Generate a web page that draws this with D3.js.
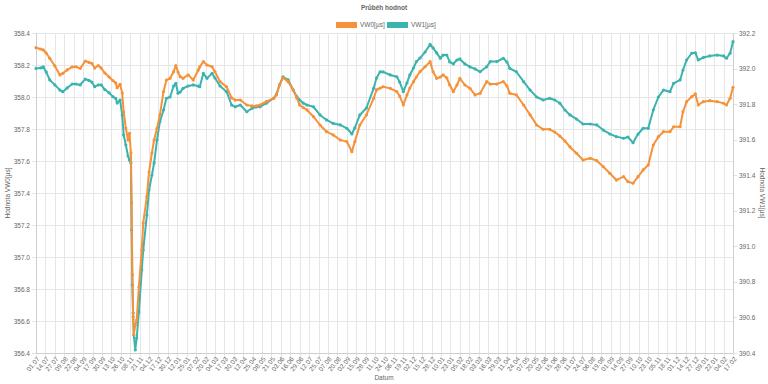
<!DOCTYPE html>
<html><head><meta charset="utf-8">
<script src="https://cdn.jsdelivr.net/npm/d3@7"></script>
<style>
html,body{margin:0;padding:0;background:#fff;}
svg text{font-family:"Liberation Sans",Arial,Helvetica,sans-serif;fill:#666;}
</style></head><body>
<svg id="c" width="768" height="384"></svg>
<script>
// day offsets from 01.07 (first day)
const days = [0,6,10,14,19,26,33,37,43,50,55,61,68,73,77,81,86,90,95,101,106,110,112,116,119,121,124,127,129,131,132,133,134,135,137,139,142,146,148,153,156,160,163,167,171,176,180,185,190,193,196,199,203,210,217,224,226,231,236,243,247,254,263,270,275,282,291,298,304,309,318,328,332,336,341,348,355,360,364,369,374,383,392,401,410,420,429,436,440,447,456,466,470,475,479,489,498,502,507,512,516,521,525,530,537,544,548,553,558,562,567,571,576,581,585,592,599,606,613,622,627,636,645,650,654,663,673,682,691,700,709,716,723,730,737,746,755,765,774,783,792,801,811,817,824,831,838,845,852,859,866,875,880,889,893,898,905,910,914,921,930,940,949,953,958,962];
const vw0 = [358.308,358.300,358.294,358.275,358.242,358.194,358.138,358.148,358.169,358.188,358.189,358.179,358.225,358.216,358.211,358.181,358.196,358.181,358.150,358.125,358.103,358.088,358.058,358.079,358.025,357.906,357.806,357.731,357.773,357.650,357.338,356.888,356.627,356.513,356.575,356.606,356.814,357.044,357.213,357.377,357.531,357.650,357.731,357.804,357.888,358.033,358.106,358.117,358.158,358.196,358.156,358.127,358.117,358.138,358.106,358.169,358.188,358.221,358.200,358.189,358.158,358.096,358.064,357.994,357.981,357.981,357.950,357.944,357.944,357.950,357.971,357.992,358.013,358.075,358.121,358.096,358.044,357.994,357.950,357.934,357.919,357.877,357.825,357.783,357.763,357.731,357.721,357.658,357.721,357.825,357.888,357.992,358.044,358.056,358.064,358.054,358.033,358.006,357.950,358.013,358.056,358.096,358.125,358.158,358.189,358.221,358.158,358.117,358.125,358.138,358.119,358.075,358.033,358.075,358.117,358.075,358.054,358.013,358.023,358.096,358.081,358.081,358.096,358.069,358.023,358.013,357.950,357.888,357.825,357.798,357.798,357.781,357.756,357.725,357.688,357.648,357.606,357.617,357.602,357.564,357.523,357.481,357.502,357.471,357.461,357.502,357.544,357.575,357.700,357.752,357.783,357.783,357.814,357.814,357.908,357.971,358.002,358.019,357.950,357.971,357.977,357.971,357.961,357.950,357.992,358.061];
const vw1 = [392.001,392.003,392.010,391.981,391.936,391.908,391.879,391.870,391.891,391.913,391.913,391.908,391.941,391.933,391.924,391.898,391.908,391.908,391.882,391.863,391.842,391.832,391.806,391.823,391.739,391.626,391.570,391.508,391.486,391.469,391.092,390.783,390.625,390.501,390.417,390.484,390.631,390.867,390.979,391.176,391.317,391.401,391.469,391.598,391.701,391.767,391.833,391.840,391.902,391.917,391.861,391.868,391.889,391.902,391.908,391.902,391.898,391.973,391.945,391.973,391.947,391.902,391.870,391.795,391.785,391.795,391.757,391.776,391.784,391.785,391.805,391.833,391.857,391.908,391.954,391.936,391.879,391.842,391.823,391.805,391.795,391.785,391.739,391.711,391.692,391.683,391.664,391.632,391.666,391.739,391.778,391.889,391.947,391.982,391.981,391.964,391.954,391.924,391.870,391.919,391.964,392.003,392.039,392.059,392.093,392.136,392.116,392.088,392.058,392.076,392.076,392.037,392.026,392.048,392.054,392.026,392.009,391.998,391.982,392.010,392.039,392.039,392.058,392.037,392.001,391.982,391.926,391.879,391.840,391.823,391.833,391.823,391.805,391.767,391.739,391.716,391.688,391.688,391.683,391.654,391.632,391.617,391.608,391.615,391.583,391.632,391.664,391.664,391.767,391.840,391.879,391.870,391.917,391.936,391.992,392.048,392.086,392.089,392.048,392.062,392.071,392.076,392.071,392.058,392.086,392.151];
const tickLabels = ["01.07","14.07","27.07","09.08","22.08","04.09","17.09","30.09","13.10","26.10","08.11","21.11","04.12","17.12","30.12","12.01","25.01","07.02","20.02","04.03","17.03","30.03","12.04","25.04","08.05","21.05","03.06","16.06","29.06","12.07","25.07","07.08","20.08","02.09","15.09","28.09","11.10","24.10","06.11","19.11","02.12","15.12","28.12","10.01","23.01","05.02","18.02","03.03","16.03","29.03","11.04","24.04","07.05","20.05","02.06","15.06","28.06","11.07","24.07","06.08","19.08","01.09","14.09","27.09","10.10","23.10","05.11","18.11","01.12","14.12","27.12","09.01","22.01","04.02","17.02"];
const tickStepDays = 13;
const leftTicks = [358.4,358.2,358.0,357.8,357.6,357.4,357.2,357.0,356.8,356.6,356.4];
const rightTicks = [392.2,392.0,391.8,391.6,391.4,391.2,391.0,390.8,390.6,390.4];
const seriesNames = ["VW0[µs]","VW1[µs]"];
const colors = ["#f5923a","#3bb3ae"];

const svg = d3.select("#c");
const L = 36, R = 733, T = 33, B = 353;
const x = d3.scaleLinear().domain([0, (tickLabels.length-1)*tickStepDays]).range([L, R]);
const yL = d3.scaleLinear().domain([356.4, 358.4]).range([B, T]);
const yR = d3.scaleLinear().domain([390.4, 392.2]).range([B, T]);
const tickDays = tickLabels.map((_, i) => i*tickStepDays);

// grid
const grid = svg.append("g");
grid.selectAll("line.v").data(tickDays).join("line")
  .attr("x1", d => Math.round(x(d))+0.5).attr("x2", d => Math.round(x(d))+0.5)
  .attr("y1", T).attr("y2", B+4).attr("stroke", "#e6e6e6").attr("stroke-width", 1);
grid.selectAll("line.h").data(leftTicks).join("line")
  .attr("x1", L-4).attr("x2", R).attr("y1", d => Math.round(yL(d))+0.5).attr("y2", d => Math.round(yL(d))+0.5)
  .attr("stroke", "#e6e6e6").attr("stroke-width", 1);
grid.selectAll("line.r").data(rightTicks).join("line")
  .attr("x1", R).attr("x2", R+4).attr("y1", d => Math.round(yR(d))+0.5).attr("y2", d => Math.round(yR(d))+0.5)
  .attr("stroke", "#e0e0e0").attr("stroke-width", 1);
// axis borders
svg.append("line").attr("x1", L+0.5).attr("x2", L+0.5).attr("y1", T).attr("y2", B).attr("stroke", "#cfcfcf");
svg.append("line").attr("x1", R+0.5).attr("x2", R+0.5).attr("y1", T).attr("y2", B).attr("stroke", "#cfcfcf");
svg.append("line").attr("x1", L).attr("x2", R).attr("y1", B+0.5).attr("y2", B+0.5).attr("stroke", "#cfcfcf");

// axes with d3
const fs = "6.5px";
const axL = svg.append("g").attr("transform", `translate(${L},0)`)
  .call(d3.axisLeft(yL).tickValues(leftTicks).tickFormat(d3.format(".1f")).tickSize(0).tickPadding(6));
const axR = svg.append("g").attr("transform", `translate(${R},0)`)
  .call(d3.axisRight(yR).tickValues(rightTicks).tickFormat(d3.format(".1f")).tickSize(0).tickPadding(6));
const axB = svg.append("g").attr("transform", `translate(0,${B})`)
  .call(d3.axisBottom(x).tickValues(tickDays).tickFormat((d, i) => tickLabels[i]).tickSize(0).tickPadding(0));
[axL, axR, axB].forEach(a => { a.select(".domain").remove(); a.selectAll("text").style("font-size", fs).attr("fill", "#666"); });
axB.selectAll("text").attr("text-anchor", "end").attr("dy", "0.3em")
  .attr("transform", "translate(2,5) rotate(-50)");

// lines
const lineL = d3.line().x((d, i) => x(days[i])).y(d => yL(d));
const lineR = d3.line().x((d, i) => x(days[i])).y(d => yR(d));
const sets = [{v: vw1, line: lineR, y: yR, c: colors[1]}, {v: vw0, line: lineL, y: yL, c: colors[0]}];
sets.forEach(s => {
  svg.append("path").datum(s.v).attr("d", s.line).attr("fill", "none")
    .attr("stroke", s.c).attr("stroke-width", 2).attr("stroke-linejoin", "round");
  svg.append("g").selectAll("circle").data(s.v).join("circle")
    .attr("cx", (d, i) => x(days[i])).attr("cy", d => s.y(d)).attr("r", 1.6).attr("fill", s.c);
});

// title
svg.append("text").attr("x", 384).attr("y", 10).attr("text-anchor", "middle")
  .style("font-size", "6.5px").style("font-weight", "bold").text("Průběh hodnot");
// legend
const lg = [{x: 336, c: colors[0], t: seriesNames[0]}, {x: 387, c: colors[1], t: seriesNames[1]}];
lg.forEach(l => {
  svg.append("rect").attr("x", l.x).attr("y", 22).attr("width", 21).attr("height", 6).attr("fill", l.c);
  svg.append("text").attr("x", l.x + 24).attr("y", 27.3).style("font-size", "6.5px").text(l.t);
});
// axis titles
svg.append("text").attr("transform", "translate(10,193) rotate(-90)").attr("text-anchor", "middle")
  .style("font-size", "6.5px").text("Hodnota VW0[µs]");
svg.append("text").attr("transform", "translate(760,193) rotate(90)").attr("text-anchor", "middle")
  .style("font-size", "6.5px").text("Hodnota VW1[µs]");
svg.append("text").attr("x", 384).attr("y", 380).attr("text-anchor", "middle")
  .style("font-size", "6.5px").text("Datum");
</script></body></html>
